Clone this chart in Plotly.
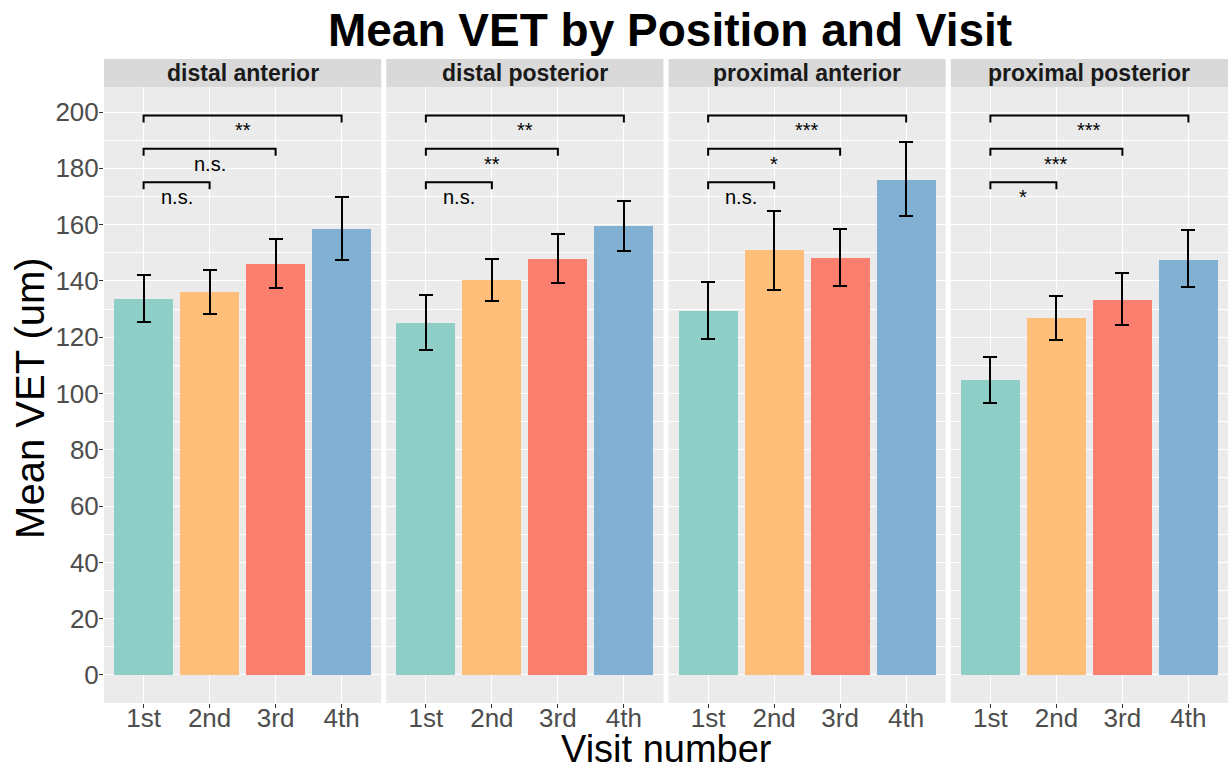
import plotly.graph_objects as go
from plotly.subplots import make_subplots

positions = ["distal anterior", "distal posterior", "proximal anterior", "proximal posterior"]
visits = ["1st", "2nd", "3rd", "4th"]
visit_x = [1, 2, 3, 4]
bar_colors = ["#8FCEC7", "#FFBE7A", "#FA7F6F", "#82B0D3"]

# mean VET and error bar limits per position
distal_anterior_mean = [133.5, 136.0, 146.0, 158.3]
distal_anterior_low = [125.4, 128.2, 137.4, 147.3]
distal_anterior_high = [142.0, 143.8, 154.8, 169.7]

distal_posterior_mean = [125.0, 140.2, 147.7, 159.4]
distal_posterior_low = [115.4, 132.8, 139.2, 150.5]
distal_posterior_high = [134.9, 147.7, 156.6, 168.3]

proximal_anterior_mean = [129.3, 151.0, 148.0, 176.0]
proximal_anterior_low = [119.3, 136.7, 138.1, 163.0]
proximal_anterior_high = [139.5, 165.0, 158.3, 189.2]

proximal_posterior_mean = [104.8, 126.8, 133.2, 147.3]
proximal_posterior_low = [96.6, 119.0, 124.3, 137.8]
proximal_posterior_high = [113.0, 134.6, 142.7, 158.0]

means = [distal_anterior_mean, distal_posterior_mean, proximal_anterior_mean, proximal_posterior_mean]
lows = [distal_anterior_low, distal_posterior_low, proximal_anterior_low, proximal_posterior_low]
highs = [distal_anterior_high, distal_posterior_high, proximal_anterior_high, proximal_posterior_high]

# significance brackets: compare 1st vs 2nd, 3rd, 4th
bracket_end = [2, 3, 4]
bracket_y = [175.1, 187.0, 198.8]
bracket_tip = 2.5
sig_distal_anterior = ["n.s.", "n.s.", "**"]
sig_distal_posterior = ["n.s.", "**", "**"]
sig_proximal_anterior = ["n.s.", "*", "***"]
sig_proximal_posterior = ["*", "***", "***"]
sig_labels = [sig_distal_anterior, sig_distal_posterior, sig_proximal_anterior, sig_proximal_posterior]

FONT = "Liberation Sans, Arial, sans-serif"

fig = make_subplots(rows=1, cols=4, shared_yaxes=True, horizontal_spacing=0.0045)

for p in range(4):
    col = p + 1
    m = means[p]
    fig.add_trace(go.Bar(
        x=visit_x, y=m, width=0.9,
        marker=dict(color=bar_colors, line=dict(width=0)),
        error_y=dict(type="data", symmetric=False,
                     array=[h - v for h, v in zip(highs[p], m)],
                     arrayminus=[v - l for l, v in zip(lows[p], m)],
                     color="black", thickness=2, width=7),
        showlegend=False, hoverinfo="skip"), row=1, col=col)
    xr = "x" if col == 1 else f"x{col}"
    yr = "y" if col == 1 else f"y{col}"
    for end, by, lab in zip(bracket_end, bracket_y, sig_labels[p]):
        fig.add_trace(go.Scatter(
            x=[1, 1, end, end], y=[by - bracket_tip, by, by, by - bracket_tip],
            mode="lines", line=dict(color="black", width=2),
            showlegend=False, hoverinfo="skip"), row=1, col=col)
        fig.add_annotation(x=(1 + end) / 2, y=by - 0.7, xref=xr, yref=yr,
                           text=lab, showarrow=False, yanchor="top",
                           font=dict(family=FONT, size=20, color="black"))
    # strip
    fig.add_shape(type="rect", xref=f"{xr} domain", yref="paper",
                  x0=0, x1=1, y0=1.0, y1=1 + 28 / 616,
                  fillcolor="#D9D9D9", line=dict(width=0), layer="below")
    fig.add_annotation(x=0.5, y=1 + 14 / 616, xref=f"{xr} domain", yref="paper",
                       text=f"<b>{positions[p]}</b>", showarrow=False,
                       xanchor="center", yanchor="middle",
                       font=dict(family=FONT, size=23, color="#1A1A1A"))

axis_common = dict(showgrid=True, gridcolor="white", gridwidth=1.2, zeroline=False,
                   ticks="outside", ticklen=4, tickcolor="#333333", tickwidth=1,
                   tickfont=dict(family=FONT, size=26, color="#4D4D4D"),
                   showline=False, automargin=False)

for col in range(1, 5):
    fig.update_xaxes(range=[0.4, 4.6], tickvals=visit_x, ticktext=visits,
                     ticklabelstandoff=-12, **axis_common, row=1, col=col)
    fig.update_yaxes(range=[-9.95, 208.9], tickvals=[0, 20, 40, 60, 80, 100, 120, 140, 160, 180, 200],
                     minor=dict(showgrid=True, gridcolor="white", gridwidth=0.5, dtick=10, tick0=0),
                     ticklabelstandoff=-5, **axis_common, row=1, col=col)
for col in range(2, 5):
    fig.update_yaxes(showticklabels=False, ticks="", row=1, col=col)

fig.add_annotation(x=-0.066, y=0.495, xref="paper", yref="paper", text="Mean VET (um)",
                   textangle=-90, showarrow=False, xanchor="center", yanchor="middle",
                   font=dict(family=FONT, size=40, color="black"))
fig.add_annotation(x=0.5, y=-0.075, xref="paper", yref="paper", text="Visit number",
                   showarrow=False, xanchor="center", yanchor="middle",
                   font=dict(family=FONT, size=38, color="black"))

fig.update_layout(
    width=1228, height=770,
    margin=dict(l=104, r=0, t=87, b=67),
    paper_bgcolor="white", plot_bgcolor="#EBEBEB",
    title=dict(text="<b>Mean VET by Position and Visit</b>", xref="paper", x=0.5036,
               xanchor="center", y=1 - 30 / 770, yanchor="middle",
               font=dict(family=FONT, size=46, color="black")),
    bargap=0,
)

fig.write_html("out.html", config={"displayModeBar": False},
               post_script="document.body.style.margin='0';")
